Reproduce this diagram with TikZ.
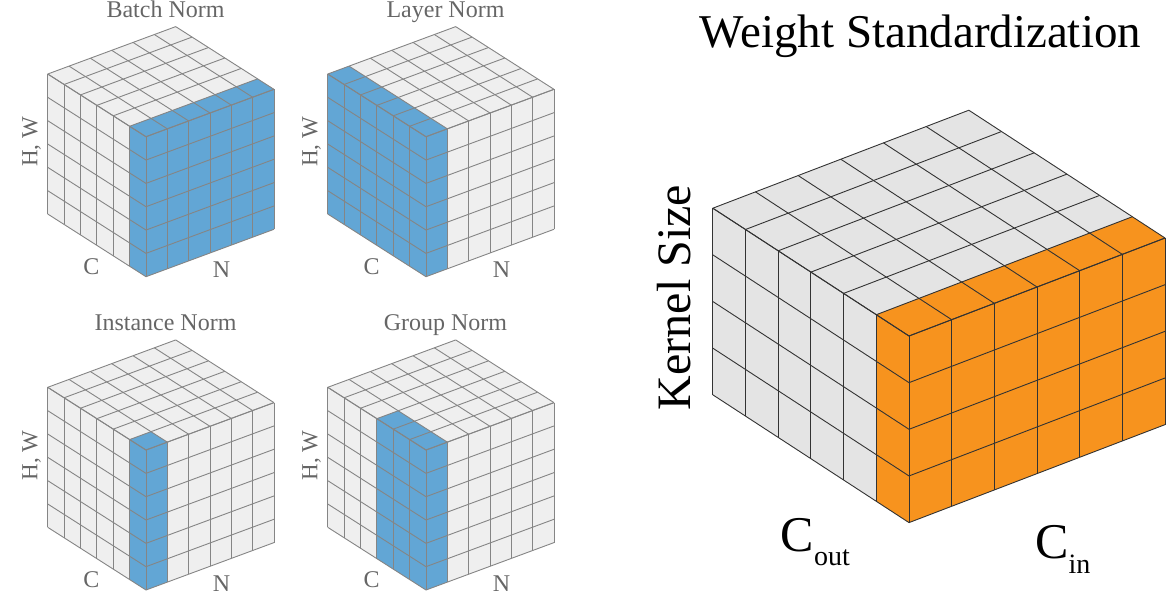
\documentclass[tikz,border=0pt]{standalone}
\usepackage{fontspec}
\setmainfont{Liberation Serif}
\definecolor{bnblue}{HTML}{62A6D5}
\definecolor{cellgrey}{HTML}{EFEFEF}
\definecolor{gridgrey}{HTML}{858585}
\definecolor{labelgrey}{HTML}{666666}
\definecolor{wsgrey}{HTML}{E4E4E4}
\definecolor{wsorange}{HTML}{F7931E}
\definecolor{wsline}{HTML}{333333}
\tikzset{
  smalltitle/.style={text=labelgrey, font=\fontsize{24}{24}\selectfont, inner sep=0pt},
  smallaxis/.style={text=labelgrey, font=\fontsize{24}{24}\selectfont, inner sep=0pt},
  hwaxis/.style={text=labelgrey, font=\fontsize{23}{23}\selectfont, inner sep=0pt, rotate=90},
  smallgrid/.style={draw=gridgrey, line width=0.9pt},
  biggrid/.style={draw=wsline, line width=0.9pt},
}
\newcommand{\normcube}[6]{%
  % #1 ox, #2 oy, #3 blue C count, #4 blue N count, #5 prefix, #6 title
  \begin{scope}[shift={(#1,#2)}, x={(-16.38pt,10.45pt)}, y={(21.33pt,7.9pt)}, z={(0pt,23.33pt)}]
    \fill[cellgrey] (0,0,0) -- (6,0,0) -- (6,0,6) -- (0,0,6) -- cycle;
    \fill[cellgrey] (0,0,0) -- (0,6,0) -- (0,6,6) -- (0,0,6) -- cycle;
    \fill[cellgrey] (0,0,6) -- (6,0,6) -- (6,6,6) -- (0,6,6) -- cycle;
    \fill[bnblue] (0,0,0) -- (#3,0,0) -- (#3,0,6) -- (0,0,6) -- cycle;
    \fill[bnblue] (0,0,0) -- (0,#4,0) -- (0,#4,6) -- (0,0,6) -- cycle;
    \fill[bnblue] (0,0,6) -- (#3,0,6) -- (#3,#4,6) -- (0,#4,6) -- cycle;
    \foreach \t in {0,...,6} {
      \draw[smallgrid] (\t,0,0) -- (\t,0,6);
      \draw[smallgrid] (0,0,\t) -- (6,0,\t);
      \draw[smallgrid] (0,\t,0) -- (0,\t,6);
      \draw[smallgrid] (0,0,\t) -- (0,6,\t);
      \draw[smallgrid] (\t,0,6) -- (\t,6,6);
      \draw[smallgrid] (0,\t,6) -- (6,\t,6);
    }
  \end{scope}
  \begin{scope}[shift={(#1,#2)}]
    \node[smalltitle, anchor=base] (#5-title) at (19.5,-259.7) {#6};
    \node[hwaxis, anchor=base] (#5-hw) at (-108.7,-134.7) {H, W};
    \node[smallaxis, anchor=base] (#5-c) at (-54.5,-2.7) {C};
    \node[smallaxis, anchor=base] (#5-n) at (75.5,1) {N};
  \end{scope}
}
\begin{document}
\begin{tikzpicture}[x=1pt,y=-1pt]
  \useasboundingbox (0,0) rectangle (1174,613);
  \normcube{146}{276.7}{1}{6}{bn}{Batch Norm}
  \normcube{426}{276.7}{6}{1}{ln}{Layer Norm}
  \normcube{146}{590}{1}{1}{in}{Instance Norm}
  \normcube{426}{590}{3}{1}{gn}{Group Norm}
  % Weight Standardization
  \begin{scope}[shift={(909,522.6)}, x={(-32.7pt,21.3pt)}, y={(42.67pt,16.33pt)}, z={(0pt,46.65pt)}]
    \fill[wsgrey] (0,0,0) -- (6,0,0) -- (6,0,4) -- (0,0,4) -- cycle;
    \fill[wsgrey] (0,0,4) -- (6,0,4) -- (6,6,4) -- (0,6,4) -- cycle;
    \fill[wsorange] (0,0,0) -- (1,0,0) -- (1,0,4) -- (0,0,4) -- cycle;
    \fill[wsorange] (0,0,0) -- (0,6,0) -- (0,6,4) -- (0,0,4) -- cycle;
    \fill[wsorange] (0,0,4) -- (1,0,4) -- (1,6,4) -- (0,6,4) -- cycle;
    \foreach \t in {0,...,6} {
      \draw[biggrid] (\t,0,0) -- (\t,0,4);
      \draw[biggrid] (0,\t,0) -- (0,\t,4);
      \draw[biggrid] (\t,0,4) -- (\t,6,4);
      \draw[biggrid] (0,\t,4) -- (6,\t,4);
    }
    \foreach \t in {0,...,4} {
      \draw[biggrid] (0,0,\t) -- (6,0,\t);
      \draw[biggrid] (0,0,\t) -- (0,6,\t);
    }
  \end{scope}
  \node[anchor=base, inner sep=0pt, font=\fontsize{47}{47}\selectfont] (wstitle) at (920.4,47) {Weight Standardization};
  \node[anchor=base, inner sep=0pt, rotate=90, font=\fontsize{48}{48}\selectfont] (kernel) at (690,297.5) {Kernel Size};
  \node[anchor=base west, inner sep=0pt, font=\fontsize{50}{50}\selectfont] (cout) at (780.5,551.7) {C\raisebox{-13.3pt}{\fontsize{28}{28}\selectfont out}};
  \node[anchor=base west, inner sep=0pt, font=\fontsize{50}{50}\selectfont] (cin) at (1035,558.3) {C\raisebox{-15pt}{\fontsize{28}{28}\selectfont in}};
\end{tikzpicture}
\end{document}
